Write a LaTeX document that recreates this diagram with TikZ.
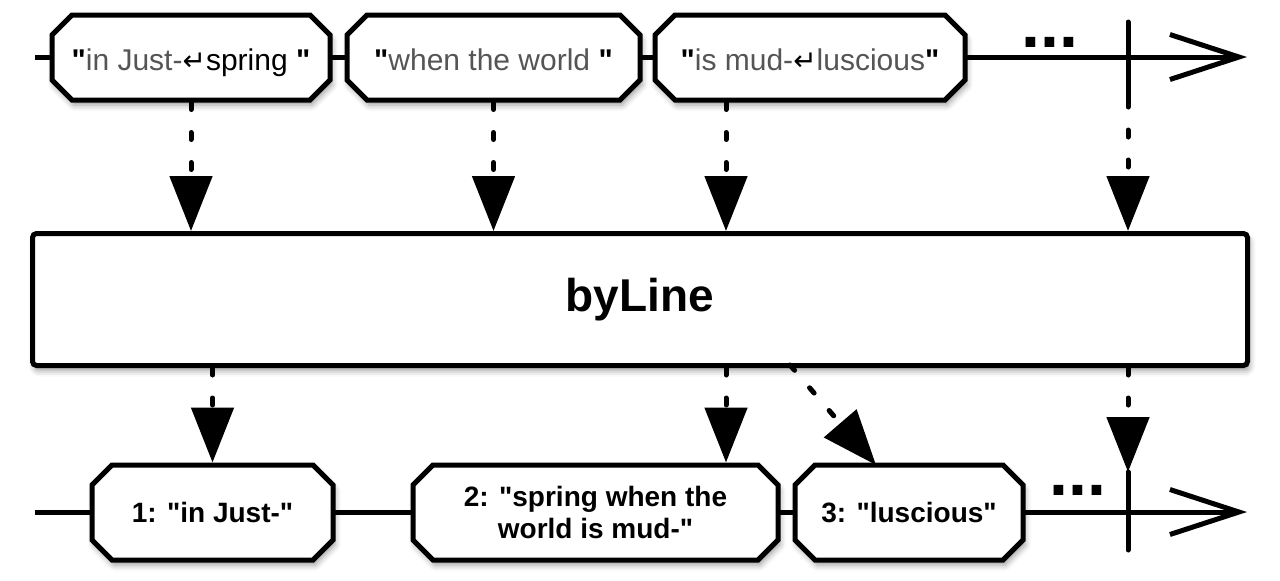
\documentclass[tikz,border=0pt]{standalone}
\usepackage{fontspec}
\setmainfont{Liberation Sans}
\newfontfamily\symfont{DejaVu Sans}
\usetikzlibrary{shapes.misc,arrows.meta,shadows.blur,calc}
\definecolor{txtgray}{HTML}{555555}
\newcommand{\qq}{\textquotedbl}
\newcommand{\bq}{{\bfseries\textquotedbl}}
\newcommand{\retsym}{{\symfont\fontsize{14}{16}\selectfont ↵}}
\begin{document}
\begin{tikzpicture}[x=0.5pt,y=-0.5pt,
  shad/.style={blur shadow={shadow xshift=1pt,shadow yshift=-2.5pt,shadow blur radius=3pt,shadow opacity=40}},
  marble/.style={chamfered rectangle, chamfered rectangle xsep=5pt, chamfered rectangle ysep=5pt,
     draw, line width=2.5pt, fill=white, shad, inner sep=0pt},
  topm/.style={marble, minimum height=42.5pt, text height=15.5pt, text depth=3pt,
     font=\fontsize{15}{17}\selectfont},
  botm/.style={marble, minimum height=47.5pt, align=center, font=\fontsize{14}{16}\selectfont\bfseries},
  tline/.style={line width=2.5pt, -{Straight Barb[length=34.5pt,width=22.5pt,line width=2.5pt]}},
  tickline/.style={line width=2.5pt, line cap=round},
  arr/.style={line width=2.5pt, dash pattern=on 3.5pt off 11.5pt, line cap=round,
     -{Triangle[length=27.5pt,width=21pt]}},
  dots/.style={anchor=base, inner sep=0pt, text height=5pt, text depth=0pt,
     font=\fontsize{34}{34}\selectfont\bfseries}
]
\useasboundingbox (0,0) rectangle (1280,580);

% top timeline
\coordinate (ta) at (35,57);
\coordinate (tb) at (1247,57);
\draw[tline] (ta) -- (tb);
\coordinate (tk1) at (1128,22);
\coordinate (tk2) at (1128,100);
\draw[tickline] (tk1) -- (tk2);
\node[dots] (tdots) at (1050,47) {...};

\node[topm, minimum width=139pt] (t1) at (191,57.5)
  {\bq\textcolor{txtgray}{in Just-}\retsym spring \bq};
\node[topm, minimum width=146.5pt] (t2) at (493.5,57.5)
  {\bq\textcolor{txtgray}{when the world }\bq};
\node[topm, minimum width=155pt] (t3) at (810,57.5)
  {\bq\textcolor{txtgray}{is mud-}\retsym\textcolor{txtgray}{luscious}\bq};

% main operator box
\node[draw, line width=2.5pt, fill=white, shad, rounded corners=2pt,
      minimum width=607.5pt, minimum height=66pt, inner sep=0pt,
      font=\fontsize{23}{26}\selectfont\bfseries] (main) at (640,299.5) {byLine};

% bottom timeline
\coordinate (ba) at (35,512);
\coordinate (bb) at (1247,512);
\draw[tline] (ba) -- (bb);
\coordinate (bk1) at (1128,472);
\coordinate (bk2) at (1128,550);
\draw[tickline] (bk1) -- (bk2);
\node[dots] (bdots) at (1078,495) {...};

\node[botm, minimum width=120.5pt] (b1) at (212.5,512.5) {1: \qq in Just-\qq};
\node[botm, minimum width=182.5pt] (b2) at (595.5,512.5) {2: \qq spring when the\\world is mud-\qq};
\node[botm, minimum width=114pt] (b3) at (909,512.5) {3: \qq luscious\qq};

% top arrows
\coordinate (x3) at (726,0);
\draw[arr] (t1.south) -- (t1.south |- main.north);
\draw[arr] (t2.south) -- (t2.south |- main.north);
\draw[arr] (t3.south -| x3) -- (main.north -| x3);
\draw[arr] (tk2) -- (main.north -| tk2);

% bottom arrows
\coordinate (d0) at (790,365);
\coordinate (d1) at (876,465);
\draw[arr] (main.south -| b1.north) -- (b1.north);
\draw[arr] (main.south -| x3) -- (b2.north -| x3);
\draw[arr] (d0) -- (d1);
\draw[arr] (main.south -| bk1) -- (bk1);
\end{tikzpicture}
\end{document}
